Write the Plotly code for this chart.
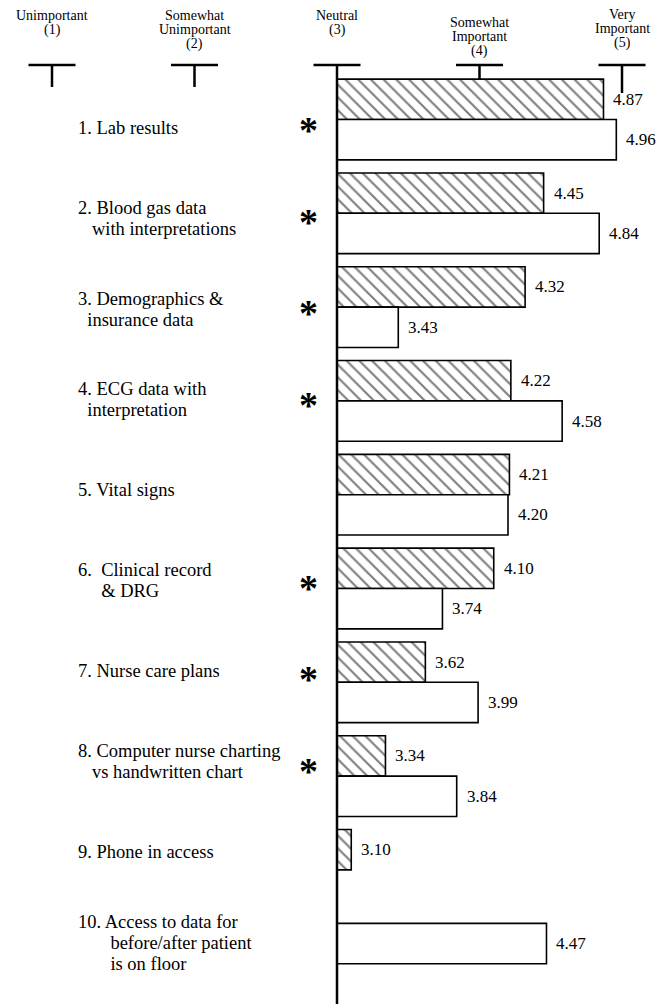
import plotly.graph_objects as go

# ---------------- data ----------------
item_no = [1, 2, 3, 4, 5, 6, 7, 8, 9, 10]
item_labels = [
    ["1. Lab results"],
    ["2. Blood gas data", "\u00a0\u00a0\u00a0with interpretations"],
    ["3. Demographics &", "\u00a0\u00a0insurance data"],
    ["4. ECG data with", "\u00a0\u00a0interpretation"],
    ["5. Vital signs"],
    ["6.\u00a0 Clinical record", "\u00a0\u00a0\u00a0\u00a0\u00a0& DRG"],
    ["7. Nurse care plans"],
    ["8. Computer nurse charting", "\u00a0\u00a0\u00a0vs handwritten chart"],
    ["9. Phone in access"],
    ["10. Access to data for",
     "\u00a0\u00a0\u00a0\u00a0\u00a0\u00a0\u00a0before/after patient",
     "\u00a0\u00a0\u00a0\u00a0\u00a0\u00a0\u00a0is on floor"],
]
significant = [True, True, True, True, False, True, True, True, False, False]
hatched_vals = [4.87, 4.45, 4.32, 4.22, 4.21, 4.10, 3.62, 3.34, 3.10, None]
open_vals = [4.96, 4.84, 3.43, 4.58, 4.20, 3.74, 3.99, 3.84, None, 4.47]
scale_values = [1, 2, 3, 4, 5]
scale_labels = [
    ["Unimportant", "(1)"],
    ["Somewhat", "Unimportant", "(2)"],
    ["Neutral", "(3)"],
    ["Somewhat", "Important", "(4)"],
    ["Very", "Important", "(5)"],
]
NEUTRAL = 3

# ---------------- style / layout constants ----------------
W_PX, H_PX = 657, 1004
TOP_PX = 65            # y pixel of the scale "T" bars / top of plot area
BAR_W = 0.43           # bar thickness in category units
SERIF = "Liberation Serif, Times New Roman, serif"


def py(p):
    """pixel from top -> paper y (plot domain spans the full figure)."""
    return 1 - p / H_PX


fig = go.Figure()

# hatched series
h_y = [k for k, v in zip(item_no, hatched_vals) if v is not None]
h_x = [v - NEUTRAL for v in hatched_vals if v is not None]
fig.add_trace(go.Bar(
    y=h_y, x=h_x, base=NEUTRAL, orientation="h",
    width=BAR_W, offset=-BAR_W,
    marker=dict(color="white", line=dict(color="black", width=1.6),
                pattern=dict(shape="\\", fgcolor="black", bgcolor="white",
                             size=9, solidity=0.24)),
    showlegend=False, hoverinfo="skip",
))

# open (white) series; takes the upper slot where there is no hatched bar
o_y, o_x, o_off = [], [], []
for k, hv, ov in zip(item_no, hatched_vals, open_vals):
    if ov is None:
        continue
    o_y.append(k)
    o_x.append(ov - NEUTRAL)
    o_off.append(-BAR_W if hv is None else 0)
fig.add_trace(go.Bar(
    y=o_y, x=o_x, base=NEUTRAL, orientation="h",
    width=BAR_W, offset=o_off,
    marker=dict(color="white", line=dict(color="black", width=1.6)),
    showlegend=False, hoverinfo="skip",
))

annotations = []

# value labels
VAL_FONT = dict(family=SERIF, size=17, color="black")
for k, hv, ov in zip(item_no, hatched_vals, open_vals):
    if hv is not None:
        annotations.append(dict(x=hv, y=k - BAR_W / 2, xref="x", yref="y",
                                text=f"{hv:.2f}", showarrow=False, xanchor="left",
                                xshift=8, font=VAL_FONT))
    if ov is not None:
        yy = k + BAR_W / 2 if hv is not None else k - BAR_W / 2
        annotations.append(dict(x=ov, y=yy, xref="x", yref="y",
                                text=f"{ov:.2f}", showarrow=False, xanchor="left",
                                xshift=8, font=VAL_FONT))

# item labels: own vertical grid, one annotation per line
LABEL_Y0, LABEL_PITCH, LINE_STEP = 128, 90.5, 21
for k, lines in zip(item_no, item_labels):
    n = len(lines)
    centre = LABEL_Y0 + LABEL_PITCH * (k - 1)
    for i, ln in enumerate(lines):
        p = centre + (i - (n - 1) / 2) * LINE_STEP
        annotations.append(dict(x=76 / W_PX, y=py(p), xref="paper", yref="paper", text=ln,
                                showarrow=False, xanchor="left", yanchor="middle",
                                font=dict(family=SERIF, size=18.5, color="black")))

# significance asterisks
AST_Y0, AST_PITCH = 122, 91.5
for k, sig in zip(item_no, significant):
    if sig:
        annotations.append(dict(x=308 / W_PX, y=py(AST_Y0 + AST_PITCH * (k - 1)),
                                xref="paper", yref="paper", text="*",
                                showarrow=False, xanchor="center", yanchor="middle",
                                yshift=-8,
                                font=dict(family=SERIF, size=38, color="black", weight="bold")))

# scale header labels
header_top = {1: 16, 2: 16, 3: 16, 4: 23, 5: 15}
HEAD_STEP = 14
for v, lines in zip(scale_values, scale_labels):
    for i, ln in enumerate(lines):
        annotations.append(dict(x=v, y=py(header_top[v] + i * HEAD_STEP), xref="x", yref="paper",
                                text=ln, showarrow=False, xanchor="center", yanchor="middle",
                                font=dict(family=SERIF, size=14, color="black")))

shapes = []
# neutral axis line
shapes.append(dict(type="line", xref="x", yref="paper", x0=NEUTRAL, x1=NEUTRAL,
                   y0=0, y1=py(TOP_PX), line=dict(color="black", width=2.5)))
# scale "T" marks
stem_px = {1: 22, 2: 22, 4: 14, 5: 28}
for v in scale_values:
    shapes.append(dict(type="line", xref="x", yref="paper", x0=v - 0.165, x1=v + 0.165,
                       y0=py(TOP_PX), y1=py(TOP_PX), line=dict(color="black", width=2.5)))
    if v in stem_px:
        shapes.append(dict(type="line", xref="x", yref="paper", x0=v, x1=v,
                           y0=py(TOP_PX), y1=py(TOP_PX + stem_px[v]),
                           line=dict(color="black", width=2.5)))

# y mapping: category 1 centre at 119.5 px, 93.8 px per category
PITCH = 93.8
y_top = 1 - (119.5 - TOP_PX) / PITCH
y_bot = y_top + (H_PX - TOP_PX) / PITCH
# x mapping: value 3 at 337 px, 142.5 px per unit
UNIT = 142.5
x_left = NEUTRAL - 337 / UNIT
x_right = NEUTRAL + (W_PX - 337) / UNIT

fig.update_layout(
    width=W_PX, height=H_PX,
    margin=dict(l=0, r=0, t=0, b=0),
    paper_bgcolor="white", plot_bgcolor="white",
    barmode="overlay",
    xaxis=dict(range=[x_left, x_right], visible=False, fixedrange=True),
    yaxis=dict(range=[y_bot, y_top], domain=[0, py(TOP_PX)], visible=False, fixedrange=True),
    annotations=annotations, shapes=shapes,
    showlegend=False,
)

fig.write_html("out.html", config={"displayModeBar": False},
               post_script="document.body.style.margin='0px';")
